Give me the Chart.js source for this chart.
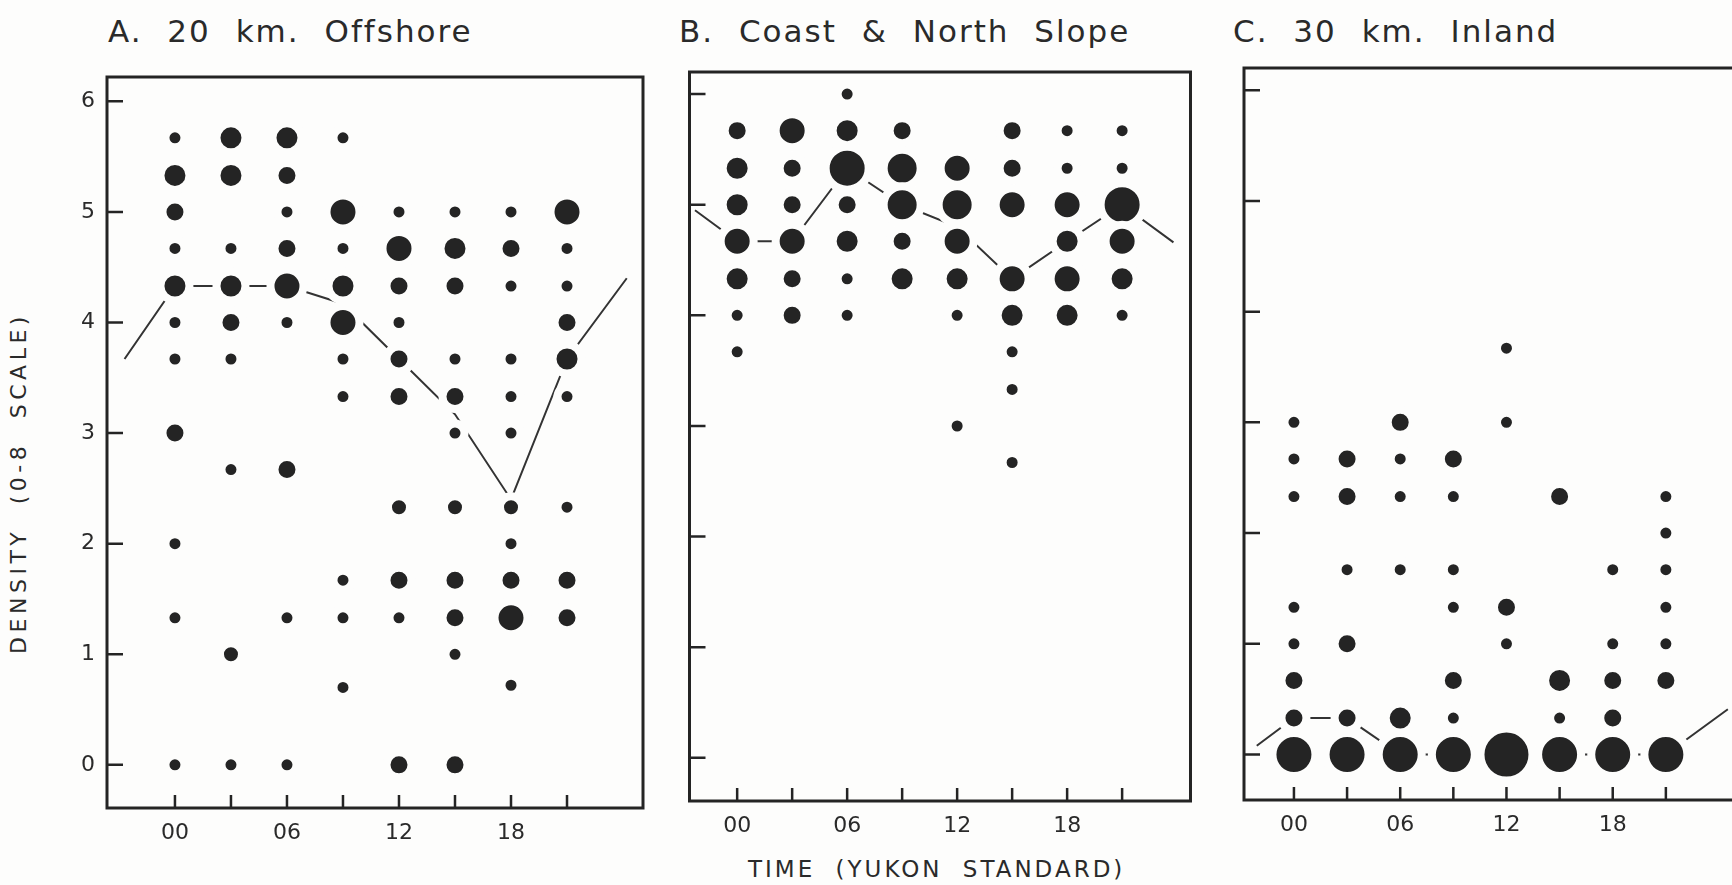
<!DOCTYPE html>
<html>
<head>
<meta charset="utf-8">
<title>Density by time of day</title>
<script src="https://cdn.jsdelivr.net/npm/chart.js@4.4.1/dist/chart.umd.min.js"></script>
<style>
  html, body { margin: 0; padding: 0; background: #fdfdfc; width: 1732px; height: 885px; overflow: hidden; }
  body { position: relative; font-family: "DejaVu Sans", sans-serif; color: #2a2a2a; }
  canvas { position: absolute; top: 0; }
  .title { position: absolute; font-size: 31px; line-height: 31px; letter-spacing: 2px; word-spacing: 13px; white-space: nowrap; }
  .axis-title { position: absolute; line-height: 23px; white-space: nowrap; }
</style>
</head>
<body>
<div class="title" style="left:108px; top:16px">A. 20 km. Offshore</div>
<div class="title" style="left:679px; top:16px">B. Coast &amp; North Slope</div>
<div class="title" style="left:1233px; top:16px">C. 30 km. Inland</div>
<div class="axis-title" style="left:18px; top:483px; font-size:22px; letter-spacing:4.5px; word-spacing:12px; transform: translate(-50%, -50%) rotate(-90deg)">DENSITY (0-8 SCALE)</div>
<div class="axis-title" style="left:748px; top:858px; font-size:23px; letter-spacing:3px; word-spacing:10px">TIME (YUKON STANDARD)</div>

<canvas id="chartA" width="690" height="885" style="left:0px"></canvas>
<canvas id="chartB" width="560" height="885" style="left:660px"></canvas>
<canvas id="chartC" width="560" height="885" style="left:1210px"></canvas>

<script>
// hours of observation and axis labels
const hourTicks = [0, 3, 6, 9, 12, 15, 18, 21];
const hourLabels = ["00", "", "06", "", "12", "", "18", ""];
const densityTicks = [0, 1, 2, 3, 4, 5, 6];
const densityLabels = ["0", "1", "2", "3", "4", "5", "6"];

// [hour, density, frequency class]
const offshoreDots = [
  [0, 5.67, 1], [0, 5.33, 4], [0, 5.0, 3], [0, 4.67, 1], [0, 4.33, 4], [0, 4.0, 1], [0, 3.67, 1], [0, 3.0, 3], [0, 2.0, 1], [0, 1.33, 1], [0, 0, 1],
  [3, 5.67, 4], [3, 5.33, 4], [3, 4.67, 1], [3, 4.33, 4], [3, 4.0, 3], [3, 3.67, 1], [3, 2.67, 1], [3, 1.0, 2], [3, 0, 1],
  [6, 5.67, 4], [6, 5.33, 3], [6, 5.0, 1], [6, 4.67, 3], [6, 4.33, 5], [6, 4.0, 1], [6, 2.67, 3], [6, 1.33, 1], [6, 0, 1],
  [9, 5.67, 1], [9, 5.0, 5], [9, 4.67, 1], [9, 4.33, 4], [9, 4.0, 5], [9, 3.67, 1], [9, 3.33, 1], [9, 1.67, 1], [9, 1.33, 1], [9, 0.7, 1],
  [12, 5.0, 1], [12, 4.67, 5], [12, 4.33, 3], [12, 4.0, 1], [12, 3.67, 3], [12, 3.33, 3], [12, 2.33, 2], [12, 1.67, 3], [12, 1.33, 1], [12, 0, 3],
  [15, 5.0, 1], [15, 4.67, 4], [15, 4.33, 3], [15, 3.67, 1], [15, 3.33, 3], [15, 3.0, 1], [15, 2.33, 2], [15, 1.67, 3], [15, 1.33, 3], [15, 1.0, 1], [15, 0, 3],
  [18, 5.0, 1], [18, 4.67, 3], [18, 4.33, 1], [18, 3.67, 1], [18, 3.33, 1], [18, 3.0, 1], [18, 2.33, 2], [18, 2.0, 1], [18, 1.67, 3], [18, 1.33, 5], [18, 0.72, 1],
  [21, 5.0, 5], [21, 4.67, 1], [21, 4.33, 1], [21, 4.0, 3], [21, 3.67, 4], [21, 3.33, 1], [21, 2.33, 1], [21, 1.67, 3], [21, 1.33, 3]
];
const offshoreMeanHour = [-2.7, 0, 3, 6, 9, 12, 15, 18, 21, 24.2];
const offshoreMean = [3.67, 4.33, 4.33, 4.33, 4.17, 3.67, 3.17, 2.4, 3.67, 4.4];

const coastDots = [
  [0, 5.67, 3], [0, 5.33, 4], [0, 5.0, 4], [0, 4.67, 5], [0, 4.33, 4], [0, 4.0, 1], [0, 3.67, 1],
  [3, 5.67, 5], [3, 5.33, 3], [3, 5.0, 3], [3, 4.67, 5], [3, 4.33, 3], [3, 4.0, 3],
  [6, 6.0, 1], [6, 5.67, 4], [6, 5.33, 7], [6, 5.0, 3], [6, 4.67, 4], [6, 4.33, 1], [6, 4.0, 1],
  [9, 5.67, 3], [9, 5.33, 6], [9, 5.0, 6], [9, 4.67, 3], [9, 4.33, 4],
  [12, 5.33, 5], [12, 5.0, 6], [12, 4.67, 5], [12, 4.33, 4], [12, 4.0, 1], [12, 3.0, 1],
  [15, 5.67, 3], [15, 5.33, 3], [15, 5.0, 5], [15, 4.33, 5], [15, 4.0, 4], [15, 3.67, 1], [15, 3.33, 1], [15, 2.67, 1],
  [18, 5.67, 1], [18, 5.33, 1], [18, 5.0, 5], [18, 4.67, 4], [18, 4.33, 5], [18, 4.0, 4],
  [21, 5.67, 1], [21, 5.33, 1], [21, 5.0, 7], [21, 4.67, 5], [21, 4.33, 4], [21, 4.0, 1]
];
const coastMeanHour = [-2.3, 0, 3, 6, 9, 12, 15, 18, 21, 23.8];
const coastMean = [4.95, 4.67, 4.67, 5.33, 5.0, 4.8, 4.33, 4.67, 5.0, 4.66];

const inlandDots = [
  [0, 3.0, 1], [0, 2.67, 1], [0, 2.33, 1], [0, 1.33, 1], [0, 1.0, 1], [0, 0.67, 3], [0, 0.33, 3], [0, 0, 7],
  [3, 2.67, 3], [3, 2.33, 3], [3, 1.67, 1], [3, 1.0, 3], [3, 0.33, 3], [3, 0, 7],
  [6, 3.0, 3], [6, 2.67, 1], [6, 2.33, 1], [6, 1.67, 1], [6, 0.33, 4], [6, 0, 7],
  [9, 2.67, 3], [9, 2.33, 1], [9, 1.67, 1], [9, 1.33, 1], [9, 0.67, 3], [9, 0.33, 1], [9, 0, 7],
  [12, 3.67, 1], [12, 3.0, 1], [12, 1.33, 3], [12, 1.0, 1], [12, 0, 8],
  [15, 2.33, 3], [15, 0.67, 4], [15, 0.33, 1], [15, 0, 7],
  [18, 1.67, 1], [18, 1.0, 1], [18, 0.67, 3], [18, 0.33, 3], [18, 0, 7],
  [21, 2.33, 1], [21, 2.0, 1], [21, 1.67, 1], [21, 1.33, 1], [21, 1.0, 1], [21, 0.67, 3], [21, 0, 7]
];
const inlandMeanHour = [-2.1, 0, 3, 6, 9, 12, 15, 18, 21, 24.5];
const inlandMean = [0.08, 0.33, 0.33, 0, 0, 0, 0, 0, 0, 0.41];

// drawing style
const dotRadius = [0, 5.5, 7, 8.5, 10.5, 12.5, 14.5, 17.5, 22];
const gap = 4;
const ink = "#242424";
const paper = "#fdfdfc";

// box round the plot and short inside tick marks
const framePlugin = {
  id: "frame",
  afterDraw(chart) {
    const { ctx, chartArea: a, scales } = chart;
    ctx.save();
    ctx.strokeStyle = ink;
    ctx.lineWidth = 3;
    ctx.strokeRect(a.left, a.top, a.right - a.left, a.bottom - a.top);
    ctx.lineWidth = 2.5;
    ctx.beginPath();
    densityTicks.forEach(v => {
      const y = scales.y.getPixelForValue(v);
      ctx.moveTo(a.left, y);
      ctx.lineTo(a.left + 16, y);
    });
    hourTicks.forEach(v => {
      const x = scales.x.getPixelForValue(v);
      ctx.moveTo(x, a.bottom);
      ctx.lineTo(x, a.bottom - 13);
    });
    ctx.stroke();
    ctx.restore();
  }
};

function makePanel(id, dots, meanHours, meanValues, box) {
  return new Chart(document.getElementById(id), {
    type: "bubble",
    data: {
      datasets: [
        {
          type: "bubble",
          order: 1,
          data: dots.map(d => ({ x: d[0], y: d[1], r: dotRadius[d[2]] + gap })),
          backgroundColor: ink,
          borderColor: paper,
          borderWidth: gap * 2,
        },
        {
          type: "line",
          order: 2,
          data: meanHours.map((h, i) => ({ x: h, y: meanValues[i] })),
          borderColor: "#333",
          borderWidth: 2,
          pointRadius: 0,
          tension: 0,
          fill: false,
        },
      ],
    },
    options: {
      responsive: false,
      animation: false,
      events: [],
      layout: { padding: { top: box.top, right: box.padRight, bottom: 0, left: 0 } },
      plugins: { legend: { display: false }, tooltip: { enabled: false } },
      scales: {
        x: {
          type: "linear",
          min: box.xMin,
          max: box.xMax,
          grid: { display: false, drawTicks: false },
          border: { display: false },
          afterBuildTicks: s => { s.ticks = hourTicks.map(v => ({ value: v })); },
          afterFit: s => { s.height = box.xHeight; },
          ticks: {
            padding: 12,
            color: "#2a2a2a",
            font: { family: "DejaVu Sans", size: 22 },
            maxRotation: 0,
            autoSkip: false,
            callback: v => hourLabels[hourTicks.indexOf(v)] || "",
          },
        },
        y: {
          type: "linear",
          min: box.yMin,
          max: box.yMax,
          grid: { display: false, drawTicks: false },
          border: { display: false },
          afterBuildTicks: s => { s.ticks = densityTicks.map(v => ({ value: v })); },
          afterFit: s => { s.width = box.yWidth; },
          ticks: {
            display: box.showY,
            padding: 12,
            color: "#2a2a2a",
            font: { family: "DejaVu Sans", size: 22 },
            callback: v => densityLabels[densityTicks.indexOf(v)],
          },
        },
      },
    },
    plugins: [framePlugin],
  });
}

makePanel("chartA", offshoreDots, offshoreMeanHour, offshoreMean, {
  top: 77, padRight: 47, xHeight: 77, yWidth: 107, showY: true,
  xMin: -3.64, xMax: 25.07, yMin: -0.39, yMax: 6.22,
});
makePanel("chartB", coastDots, coastMeanHour, coastMean, {
  top: 72, padRight: 27, xHeight: 84, yWidth: 19, showY: false,
  xMin: -2.6, xMax: 24.73, yMin: -0.39, yMax: 6.2,
});
makePanel("chartC", inlandDots, inlandMeanHour, inlandMean, {
  top: 68, padRight: 24, xHeight: 85, yWidth: 23, showY: false,
  xMin: -2.82, xMax: 24.96, yMin: -0.41, yMax: 6.2,
});
</script>
</body>
</html>
